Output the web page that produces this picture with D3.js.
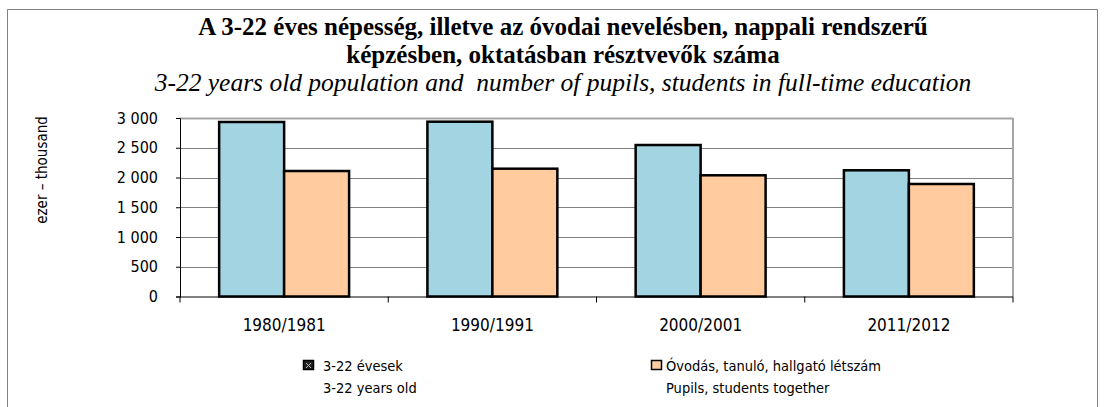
<!DOCTYPE html>
<html lang="hu">
<head>
  <meta charset="UTF-8">
  <title>3-22 éves népesség</title>
  <script src="https://d3js.org/d3.v7.min.js"></script>
  <style>
    body { margin: 0; background: #fff; }
    text { white-space: pre; }
  </style>
</head>
<body>
<svg id="chart" width="1104" height="407"></svg>
<script>
// data (thousand persons)
const categories = ["1980/1981", "1990/1991", "2000/2001", "2011/2012"];
const population = [2933, 2938, 2546, 2121];
const pupils = [2109, 2148, 2037, 1891];
const yTicks = [0, 500, 1000, 1500, 2000, 2500, 3000];
const seriesNames = ["3-22 évesek", "Óvodás, tanuló, hallgató létszám"];
const seriesNamesEn = ["3-22 years old", "Pupils, students together"];
const colors = ["#a2d4e2", "#ffcb9f"];

const svg = d3.select("#chart");
const narrow = '"DejaVu Sans Condensed", "Liberation Sans Narrow", sans-serif';
const serif = '"Liberation Serif", "Times New Roman", serif';

// outer frame
svg.append("path")
  .attr("d", "M7.5,407 V9.5 H1097.5 V407")
  .attr("fill", "none").attr("stroke", "#808080").attr("stroke-width", 1);

// titles
const titleLines = [
  "A 3-22 éves népesség, illetve az óvodai nevelésben, nappali rendszerű",
  "képzésben, oktatásban résztvevők száma"
];
svg.append("g").selectAll("text")
  .data(titleLines)
  .join("text")
  .attr("x", 563).attr("y", (d, i) => 35 + i * 28)
  .attr("text-anchor", "middle")
  .style("font-family", serif)
  .style("font-weight", "bold").style("font-size", "25px")
  .text(d => d);
svg.append("text").attr("x", 563).attr("y", 91)
  .attr("text-anchor", "middle")
  .style("font-family", serif)
  .style("font-style", "italic").style("font-size", "25.5px")
  .text("3-22 years old population and  number of pupils, students in full-time education");

const plotL = 180, plotR = 1013, plotT = 118, plotB = 296.5;

const y = d3.scaleLinear().domain([0, 3000]).range([plotB, plotT]);
const x0 = d3.scaleBand().domain(categories).range([plotL, plotR])
  .paddingInner(0.376).paddingOuter(0.188);
const x1 = d3.scaleBand().domain([0, 1]).range([0, x0.bandwidth()]);

// gridlines
svg.append("g").selectAll("line")
  .data(yTicks.filter(d => d > 0))
  .join("line")
  .attr("x1", plotL).attr("x2", plotR)
  .attr("y1", d => Math.round(y(d)) + 0.5).attr("y2", d => Math.round(y(d)) + 0.5)
  .attr("stroke", d => d === 3000 ? "#a6a6a6" : "#808080")
  .attr("stroke-width", d => d === 3000 ? 2 : 1);

// right border of plot area
svg.append("line")
  .attr("x1", plotR).attr("x2", plotR).attr("y1", plotT).attr("y2", plotB)
  .attr("stroke", "#a6a6a6").attr("stroke-width", 2);

// bars
const groups = svg.append("g").selectAll("g")
  .data(categories)
  .join("g")
  .attr("transform", d => `translate(${x0(d)},0)`);

groups.selectAll("rect")
  .data((d, i) => [population[i], pupils[i]])
  .join("rect")
  .attr("x", (d, j) => x1(j))
  .attr("width", x1.bandwidth())
  .attr("y", d => y(d))
  .attr("height", d => plotB - y(d))
  .attr("fill", (d, j) => colors[j])
  .attr("stroke", "#000").attr("stroke-width", 2.5);

// y axis
const yAxis = d3.axisLeft(y).tickValues(yTicks).tickSize(4).tickPadding(18)
  .tickFormat(d => d3.format(",")(d).replace(/,/g, " "));
const gy = svg.append("g").attr("transform", `translate(${plotL},0)`).call(yAxis);
gy.select(".domain").attr("stroke", "#000");
gy.selectAll(".tick line").attr("stroke", "#000");
gy.selectAll("text").style("font-family", narrow).style("font-size", "16px").attr("fill", "#000");

// x axis (ticks between categories)
svg.append("line").attr("x1", plotL).attr("x2", plotR)
  .attr("y1", plotB + 0.5).attr("y2", plotB + 0.5).attr("stroke", "#000");
svg.append("g").selectAll("line")
  .data(d3.range(categories.length + 1))
  .join("line")
  .attr("x1", i => plotL + i * x0.step())
  .attr("x2", i => plotL + i * x0.step())
  .attr("y1", plotB).attr("y2", plotB + 6)
  .attr("stroke", "#000");
svg.append("g").selectAll("text")
  .data(categories)
  .join("text")
  .attr("x", d => x0(d) + x0.bandwidth() / 2)
  .attr("y", 331)
  .attr("text-anchor", "middle")
  .style("font-family", narrow).style("font-size", "17px")
  .text(d => d);

// y axis title
svg.append("text")
  .attr("transform", "translate(47,170) rotate(-90)")
  .attr("text-anchor", "middle")
  .style("font-family", narrow).style("font-size", "15px")
  .text("ezer – thousand");

// legend
const legendX = [303, 651];
const textGap = [20, 15];
const lg = svg.append("g").selectAll("g")
  .data(seriesNames)
  .join("g")
  .attr("transform", (d, i) => `translate(${legendX[i]},0)`);
lg.append("rect")
  .attr("x", 0.5).attr("y", 360.5).attr("width", 10).attr("height", 9)
  .attr("fill", (d, i) => i === 0 ? "#222" : colors[1])
  .attr("stroke", "#000").attr("stroke-width", 1.5);
lg.filter((d, i) => i === 0).append("path")
  .attr("d", "M3,363 L8,368 M8,363 L3,368")
  .attr("stroke", "#bbb").attr("stroke-width", 1);
lg.append("text")
  .attr("x", (d, i) => textGap[i]).attr("y", 371)
  .style("font-family", narrow).style("font-size", "14.5px")
  .text(d => d);
lg.append("text")
  .attr("x", (d, i) => textGap[i]).attr("y", 393)
  .style("font-family", narrow).style("font-size", "14.5px")
  .text((d, i) => seriesNamesEn[i]);
</script>
</body>
</html>
